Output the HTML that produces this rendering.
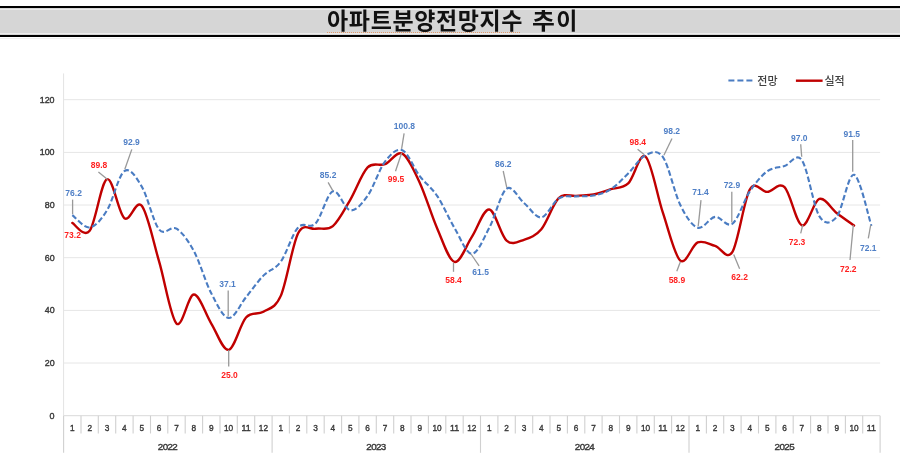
<!DOCTYPE html>
<html lang="ko"><head><meta charset="utf-8"><title>아파트분양전망지수 추이</title>
<style>
html,body{margin:0;padding:0;background:#fff;}
body{width:900px;height:465px;overflow:hidden;position:relative;font-family:"Liberation Sans","Noto Sans CJK KR",sans-serif;}
.title{position:absolute;left:0;top:6px;width:900px;height:27px;border-top:2px solid #000;border-bottom:2px solid #000;background:#d6d6d6;}
.title .in{position:absolute;left:0;right:0;top:1px;bottom:1px;border-top:1px solid #ececec;border-bottom:1px solid #ececec;}
.title h1{margin:0;position:absolute;left:2.5px;width:900px;top:-2px;text-align:center;font:bold 23px/31px "Liberation Sans","Noto Sans CJK KR",sans-serif;color:#111;letter-spacing:0.6px;word-spacing:2px;}
.title .sq{position:absolute;left:327px;width:193px;top:24px;height:0;border-top:1px dotted #e39a6a;}
.sub{position:absolute;left:0;top:38px;width:900px;height:1px;background:#f0f0f0;}
svg{position:absolute;left:0;top:0;}
.wrap{position:absolute;left:0;top:0;width:900px;height:465px;background:#fff;filter:blur(0.6px);}
.yl{font-size:9.8px;fill:#383838;stroke:#383838;stroke-width:0.4px;text-anchor:end;font-family:"Liberation Sans",sans-serif;}
.ml{font-size:9.8px;fill:#383838;stroke:#383838;stroke-width:0.4px;text-anchor:middle;font-family:"Liberation Sans",sans-serif;}
.dl{font-size:8.5px;font-weight:bold;text-anchor:middle;font-family:"Liberation Sans",sans-serif;}
.lg{font-size:11px;font-weight:500;fill:#404040;font-family:"Liberation Sans","Noto Sans CJK KR",sans-serif;}
</style></head><body>
<div class="wrap">
<div class="title"><div class="in"></div><h1>아파트분양전망지수 <span style="letter-spacing:3px;display:inline-block;transform:scaleX(1.08);transform-origin:0 50%">추</span>이</h1><div class="sq"></div></div>
<div class="sub"></div>
<svg width="900" height="465" viewBox="0 0 900 465">
<line x1="63.6" y1="363.0" x2="880.1" y2="363.0" stroke="#e6e6e6" stroke-width="1"/>
<line x1="63.6" y1="310.4" x2="880.1" y2="310.4" stroke="#e6e6e6" stroke-width="1"/>
<line x1="63.6" y1="257.7" x2="880.1" y2="257.7" stroke="#e6e6e6" stroke-width="1"/>
<line x1="63.6" y1="205.0" x2="880.1" y2="205.0" stroke="#e6e6e6" stroke-width="1"/>
<line x1="63.6" y1="152.4" x2="880.1" y2="152.4" stroke="#e6e6e6" stroke-width="1"/>
<line x1="63.6" y1="99.7" x2="880.1" y2="99.7" stroke="#e6e6e6" stroke-width="1"/>
<line x1="63.6" y1="73.4" x2="63.6" y2="415.7" stroke="#e3e3e3" stroke-width="1"/>
<text x="54.6" y="418.6" class="yl" textLength="5.0" lengthAdjust="spacingAndGlyphs">0</text>
<text x="54.6" y="365.9" class="yl" textLength="9.9" lengthAdjust="spacingAndGlyphs">20</text>
<text x="54.6" y="313.3" class="yl" textLength="9.9" lengthAdjust="spacingAndGlyphs">40</text>
<text x="54.6" y="260.6" class="yl" textLength="9.9" lengthAdjust="spacingAndGlyphs">60</text>
<text x="54.6" y="207.9" class="yl" textLength="9.9" lengthAdjust="spacingAndGlyphs">80</text>
<text x="54.6" y="155.3" class="yl" textLength="14.9" lengthAdjust="spacingAndGlyphs">100</text>
<text x="54.6" y="102.6" class="yl" textLength="14.9" lengthAdjust="spacingAndGlyphs">120</text>
<line x1="63.6" y1="415.7" x2="880.1" y2="415.7" stroke="#d9d9d9" stroke-width="1"/>
<line x1="63.6" y1="415.7" x2="63.6" y2="452.8" stroke="#d0d0d0" stroke-width="1.1"/>
<line x1="81.0" y1="415.7" x2="81.0" y2="433.5" stroke="#d0d0d0" stroke-width="1.1"/>
<line x1="98.3" y1="415.7" x2="98.3" y2="433.5" stroke="#d0d0d0" stroke-width="1.1"/>
<line x1="115.7" y1="415.7" x2="115.7" y2="433.5" stroke="#d0d0d0" stroke-width="1.1"/>
<line x1="133.1" y1="415.7" x2="133.1" y2="433.5" stroke="#d0d0d0" stroke-width="1.1"/>
<line x1="150.5" y1="415.7" x2="150.5" y2="433.5" stroke="#d0d0d0" stroke-width="1.1"/>
<line x1="167.8" y1="415.7" x2="167.8" y2="433.5" stroke="#d0d0d0" stroke-width="1.1"/>
<line x1="185.2" y1="415.7" x2="185.2" y2="433.5" stroke="#d0d0d0" stroke-width="1.1"/>
<line x1="202.6" y1="415.7" x2="202.6" y2="433.5" stroke="#d0d0d0" stroke-width="1.1"/>
<line x1="220.0" y1="415.7" x2="220.0" y2="433.5" stroke="#d0d0d0" stroke-width="1.1"/>
<line x1="237.3" y1="415.7" x2="237.3" y2="433.5" stroke="#d0d0d0" stroke-width="1.1"/>
<line x1="254.7" y1="415.7" x2="254.7" y2="433.5" stroke="#d0d0d0" stroke-width="1.1"/>
<line x1="272.1" y1="415.7" x2="272.1" y2="452.8" stroke="#d0d0d0" stroke-width="1.1"/>
<line x1="289.4" y1="415.7" x2="289.4" y2="433.5" stroke="#d0d0d0" stroke-width="1.1"/>
<line x1="306.8" y1="415.7" x2="306.8" y2="433.5" stroke="#d0d0d0" stroke-width="1.1"/>
<line x1="324.2" y1="415.7" x2="324.2" y2="433.5" stroke="#d0d0d0" stroke-width="1.1"/>
<line x1="341.6" y1="415.7" x2="341.6" y2="433.5" stroke="#d0d0d0" stroke-width="1.1"/>
<line x1="358.9" y1="415.7" x2="358.9" y2="433.5" stroke="#d0d0d0" stroke-width="1.1"/>
<line x1="376.3" y1="415.7" x2="376.3" y2="433.5" stroke="#d0d0d0" stroke-width="1.1"/>
<line x1="393.7" y1="415.7" x2="393.7" y2="433.5" stroke="#d0d0d0" stroke-width="1.1"/>
<line x1="411.0" y1="415.7" x2="411.0" y2="433.5" stroke="#d0d0d0" stroke-width="1.1"/>
<line x1="428.4" y1="415.7" x2="428.4" y2="433.5" stroke="#d0d0d0" stroke-width="1.1"/>
<line x1="445.8" y1="415.7" x2="445.8" y2="433.5" stroke="#d0d0d0" stroke-width="1.1"/>
<line x1="463.2" y1="415.7" x2="463.2" y2="433.5" stroke="#d0d0d0" stroke-width="1.1"/>
<line x1="480.5" y1="415.7" x2="480.5" y2="452.8" stroke="#d0d0d0" stroke-width="1.1"/>
<line x1="497.9" y1="415.7" x2="497.9" y2="433.5" stroke="#d0d0d0" stroke-width="1.1"/>
<line x1="515.3" y1="415.7" x2="515.3" y2="433.5" stroke="#d0d0d0" stroke-width="1.1"/>
<line x1="532.7" y1="415.7" x2="532.7" y2="433.5" stroke="#d0d0d0" stroke-width="1.1"/>
<line x1="550.0" y1="415.7" x2="550.0" y2="433.5" stroke="#d0d0d0" stroke-width="1.1"/>
<line x1="567.4" y1="415.7" x2="567.4" y2="433.5" stroke="#d0d0d0" stroke-width="1.1"/>
<line x1="584.8" y1="415.7" x2="584.8" y2="433.5" stroke="#d0d0d0" stroke-width="1.1"/>
<line x1="602.1" y1="415.7" x2="602.1" y2="433.5" stroke="#d0d0d0" stroke-width="1.1"/>
<line x1="619.5" y1="415.7" x2="619.5" y2="433.5" stroke="#d0d0d0" stroke-width="1.1"/>
<line x1="636.9" y1="415.7" x2="636.9" y2="433.5" stroke="#d0d0d0" stroke-width="1.1"/>
<line x1="654.3" y1="415.7" x2="654.3" y2="433.5" stroke="#d0d0d0" stroke-width="1.1"/>
<line x1="671.6" y1="415.7" x2="671.6" y2="433.5" stroke="#d0d0d0" stroke-width="1.1"/>
<line x1="689.0" y1="415.7" x2="689.0" y2="452.8" stroke="#d0d0d0" stroke-width="1.1"/>
<line x1="706.4" y1="415.7" x2="706.4" y2="433.5" stroke="#d0d0d0" stroke-width="1.1"/>
<line x1="723.7" y1="415.7" x2="723.7" y2="433.5" stroke="#d0d0d0" stroke-width="1.1"/>
<line x1="741.1" y1="415.7" x2="741.1" y2="433.5" stroke="#d0d0d0" stroke-width="1.1"/>
<line x1="758.5" y1="415.7" x2="758.5" y2="433.5" stroke="#d0d0d0" stroke-width="1.1"/>
<line x1="775.9" y1="415.7" x2="775.9" y2="433.5" stroke="#d0d0d0" stroke-width="1.1"/>
<line x1="793.2" y1="415.7" x2="793.2" y2="433.5" stroke="#d0d0d0" stroke-width="1.1"/>
<line x1="810.6" y1="415.7" x2="810.6" y2="433.5" stroke="#d0d0d0" stroke-width="1.1"/>
<line x1="828.0" y1="415.7" x2="828.0" y2="433.5" stroke="#d0d0d0" stroke-width="1.1"/>
<line x1="845.4" y1="415.7" x2="845.4" y2="433.5" stroke="#d0d0d0" stroke-width="1.1"/>
<line x1="862.7" y1="415.7" x2="862.7" y2="433.5" stroke="#d0d0d0" stroke-width="1.1"/>
<line x1="880.1" y1="415.7" x2="880.1" y2="452.8" stroke="#d0d0d0" stroke-width="1.1"/>
<text x="72.3" y="431.0" class="ml" textLength="4.6" lengthAdjust="spacingAndGlyphs">1</text>
<text x="89.7" y="431.0" class="ml" textLength="4.6" lengthAdjust="spacingAndGlyphs">2</text>
<text x="107.0" y="431.0" class="ml" textLength="4.6" lengthAdjust="spacingAndGlyphs">3</text>
<text x="124.4" y="431.0" class="ml" textLength="4.6" lengthAdjust="spacingAndGlyphs">4</text>
<text x="141.8" y="431.0" class="ml" textLength="4.6" lengthAdjust="spacingAndGlyphs">5</text>
<text x="159.1" y="431.0" class="ml" textLength="4.6" lengthAdjust="spacingAndGlyphs">6</text>
<text x="176.5" y="431.0" class="ml" textLength="4.6" lengthAdjust="spacingAndGlyphs">7</text>
<text x="193.9" y="431.0" class="ml" textLength="4.6" lengthAdjust="spacingAndGlyphs">8</text>
<text x="211.3" y="431.0" class="ml" textLength="4.6" lengthAdjust="spacingAndGlyphs">9</text>
<text x="228.6" y="431.0" class="ml" textLength="9.2" lengthAdjust="spacingAndGlyphs">10</text>
<text x="246.0" y="431.0" class="ml" textLength="9.2" lengthAdjust="spacingAndGlyphs">11</text>
<text x="263.4" y="431.0" class="ml" textLength="9.2" lengthAdjust="spacingAndGlyphs">12</text>
<text x="280.8" y="431.0" class="ml" textLength="4.6" lengthAdjust="spacingAndGlyphs">1</text>
<text x="298.1" y="431.0" class="ml" textLength="4.6" lengthAdjust="spacingAndGlyphs">2</text>
<text x="315.5" y="431.0" class="ml" textLength="4.6" lengthAdjust="spacingAndGlyphs">3</text>
<text x="332.9" y="431.0" class="ml" textLength="4.6" lengthAdjust="spacingAndGlyphs">4</text>
<text x="350.2" y="431.0" class="ml" textLength="4.6" lengthAdjust="spacingAndGlyphs">5</text>
<text x="367.6" y="431.0" class="ml" textLength="4.6" lengthAdjust="spacingAndGlyphs">6</text>
<text x="385.0" y="431.0" class="ml" textLength="4.6" lengthAdjust="spacingAndGlyphs">7</text>
<text x="402.4" y="431.0" class="ml" textLength="4.6" lengthAdjust="spacingAndGlyphs">8</text>
<text x="419.7" y="431.0" class="ml" textLength="4.6" lengthAdjust="spacingAndGlyphs">9</text>
<text x="437.1" y="431.0" class="ml" textLength="9.2" lengthAdjust="spacingAndGlyphs">10</text>
<text x="454.5" y="431.0" class="ml" textLength="9.2" lengthAdjust="spacingAndGlyphs">11</text>
<text x="471.8" y="431.0" class="ml" textLength="9.2" lengthAdjust="spacingAndGlyphs">12</text>
<text x="489.2" y="431.0" class="ml" textLength="4.6" lengthAdjust="spacingAndGlyphs">1</text>
<text x="506.6" y="431.0" class="ml" textLength="4.6" lengthAdjust="spacingAndGlyphs">2</text>
<text x="524.0" y="431.0" class="ml" textLength="4.6" lengthAdjust="spacingAndGlyphs">3</text>
<text x="541.3" y="431.0" class="ml" textLength="4.6" lengthAdjust="spacingAndGlyphs">4</text>
<text x="558.7" y="431.0" class="ml" textLength="4.6" lengthAdjust="spacingAndGlyphs">5</text>
<text x="576.1" y="431.0" class="ml" textLength="4.6" lengthAdjust="spacingAndGlyphs">6</text>
<text x="593.5" y="431.0" class="ml" textLength="4.6" lengthAdjust="spacingAndGlyphs">7</text>
<text x="610.8" y="431.0" class="ml" textLength="4.6" lengthAdjust="spacingAndGlyphs">8</text>
<text x="628.2" y="431.0" class="ml" textLength="4.6" lengthAdjust="spacingAndGlyphs">9</text>
<text x="645.6" y="431.0" class="ml" textLength="9.2" lengthAdjust="spacingAndGlyphs">10</text>
<text x="662.9" y="431.0" class="ml" textLength="9.2" lengthAdjust="spacingAndGlyphs">11</text>
<text x="680.3" y="431.0" class="ml" textLength="9.2" lengthAdjust="spacingAndGlyphs">12</text>
<text x="697.7" y="431.0" class="ml" textLength="4.6" lengthAdjust="spacingAndGlyphs">1</text>
<text x="715.1" y="431.0" class="ml" textLength="4.6" lengthAdjust="spacingAndGlyphs">2</text>
<text x="732.4" y="431.0" class="ml" textLength="4.6" lengthAdjust="spacingAndGlyphs">3</text>
<text x="749.8" y="431.0" class="ml" textLength="4.6" lengthAdjust="spacingAndGlyphs">4</text>
<text x="767.2" y="431.0" class="ml" textLength="4.6" lengthAdjust="spacingAndGlyphs">5</text>
<text x="784.6" y="431.0" class="ml" textLength="4.6" lengthAdjust="spacingAndGlyphs">6</text>
<text x="801.9" y="431.0" class="ml" textLength="4.6" lengthAdjust="spacingAndGlyphs">7</text>
<text x="819.3" y="431.0" class="ml" textLength="4.6" lengthAdjust="spacingAndGlyphs">8</text>
<text x="836.7" y="431.0" class="ml" textLength="4.6" lengthAdjust="spacingAndGlyphs">9</text>
<text x="854.0" y="431.0" class="ml" textLength="9.2" lengthAdjust="spacingAndGlyphs">10</text>
<text x="871.4" y="431.0" class="ml" textLength="9.2" lengthAdjust="spacingAndGlyphs">11</text>
<text x="167.8" y="449.8" class="ml" textLength="20">2022</text>
<text x="376.3" y="449.8" class="ml" textLength="20">2023</text>
<text x="584.8" y="449.8" class="ml" textLength="20">2024</text>
<text x="784.6" y="449.8" class="ml" textLength="20">2025</text>
<path d="M72.29 222.94 C75.18 224.26 83.87 238.13 89.66 230.84 C95.45 223.55 101.24 181.33 107.03 179.23 C112.82 177.12 118.61 213.77 124.40 218.20 C130.19 222.63 135.98 198.58 141.78 205.82 C147.57 213.06 153.36 242.03 159.15 261.65 C164.94 281.27 170.73 318.05 176.52 323.53 C182.31 329.02 188.10 294.57 193.89 294.57 C199.68 294.57 205.47 314.32 211.26 323.53 C217.06 332.75 222.85 350.88 228.64 349.87 C234.43 348.86 240.22 323.84 246.01 317.48 C251.80 311.11 257.59 315.28 263.38 311.68 C269.17 308.08 274.96 308.96 280.75 295.88 C286.55 282.80 292.34 244.40 298.13 233.21 C303.92 222.02 309.71 229.92 315.50 228.73 C321.29 227.55 327.08 230.93 332.87 226.10 C338.66 221.27 344.45 209.55 350.24 199.77 C356.03 189.98 361.83 173.30 367.62 167.38 C373.41 161.45 379.20 166.50 384.99 164.22 C390.78 161.93 396.57 150.61 402.36 153.68 C408.15 156.76 413.94 170.23 419.73 182.65 C425.52 195.07 431.31 215.00 437.11 228.21 C442.90 241.42 448.69 260.46 454.48 261.91 C460.27 263.36 466.06 245.63 471.85 236.90 C477.64 228.16 483.43 208.90 489.22 209.51 C495.01 210.12 500.80 235.54 506.59 240.58 C512.39 245.63 518.18 241.68 523.97 239.79 C529.76 237.91 535.55 236.19 541.34 229.26 C547.13 222.33 552.92 203.76 558.71 198.19 C564.50 192.61 570.29 196.43 576.08 195.82 C581.87 195.20 587.67 195.60 593.46 194.50 C599.25 193.40 605.04 191.08 610.83 189.23 C616.62 187.39 622.41 188.88 628.20 183.44 C633.99 178.00 639.78 151.66 645.57 156.58 C651.36 161.50 657.15 195.60 662.95 212.93 C668.74 230.27 674.53 255.68 680.32 260.60 C686.11 265.51 691.90 244.88 697.69 242.43 C703.48 239.97 709.27 244.27 715.06 245.85 C720.85 247.43 726.64 261.30 732.44 251.91 C738.23 242.51 744.02 199.50 749.81 189.50 C755.60 179.49 761.39 192.26 767.18 191.87 C772.97 191.47 778.76 181.55 784.55 187.13 C790.34 192.70 796.13 223.34 801.92 225.31 C807.72 227.28 813.51 201.04 819.30 198.98 C825.09 196.91 830.88 208.50 836.67 212.93 C842.46 217.37 851.15 223.47 854.04 225.57" fill="none" stroke="#c00000" stroke-width="2.4" stroke-linejoin="round" stroke-linecap="round"/>
<path d="M72.29 215.04 C75.18 217.10 83.87 228.21 89.66 227.42 C95.45 226.63 101.24 219.69 107.03 210.30 C112.82 200.91 118.61 175.01 124.40 171.06 C130.19 167.11 135.98 176.86 141.78 186.60 C147.57 196.34 153.36 222.50 159.15 229.52 C164.94 236.55 170.73 225.13 176.52 228.73 C182.31 232.33 188.10 240.36 193.89 251.12 C199.68 261.87 205.47 282.10 211.26 293.25 C217.06 304.40 222.85 317.35 228.64 318.00 C234.43 318.66 240.22 304.27 246.01 297.20 C251.80 290.13 257.59 281.53 263.38 275.61 C269.17 269.68 274.96 269.68 280.75 261.65 C286.55 253.62 292.34 233.78 298.13 227.42 C303.92 221.05 309.71 229.48 315.50 223.47 C321.29 217.45 327.08 193.53 332.87 191.34 C338.66 189.15 344.45 209.55 350.24 210.30 C356.03 211.05 361.83 203.94 367.62 195.82 C373.41 187.70 379.20 169.18 384.99 161.58 C390.78 153.99 396.57 147.85 402.36 150.26 C408.15 152.67 413.94 168.47 419.73 176.07 C425.52 183.66 431.31 187.17 437.11 195.82 C442.90 204.46 448.69 218.29 454.48 227.94 C460.27 237.60 466.06 253.75 471.85 253.75 C477.64 253.75 483.43 238.78 489.22 227.94 C495.01 217.10 500.80 192.88 506.59 188.71 C512.39 184.54 518.18 198.14 523.97 202.93 C529.76 207.71 535.55 218.16 541.34 217.41 C547.13 216.66 552.92 201.96 558.71 198.45 C564.50 194.94 570.29 196.83 576.08 196.34 C581.87 195.86 587.67 196.74 593.46 195.55 C599.25 194.37 605.04 192.92 610.83 189.23 C616.62 185.55 622.41 179.09 628.20 173.43 C633.99 167.77 639.78 157.98 645.57 155.26 C651.36 152.54 657.15 148.81 662.95 157.11 C668.74 165.40 674.53 193.27 680.32 205.03 C686.11 216.80 691.90 225.70 697.69 227.68 C703.48 229.65 709.27 217.54 715.06 216.88 C720.85 216.22 726.64 227.99 732.44 223.73 C738.23 219.47 744.02 200.07 749.81 191.34 C755.60 182.61 761.39 175.54 767.18 171.33 C772.97 167.11 778.76 167.90 784.55 166.06 C790.34 164.22 796.13 151.93 801.92 160.27 C807.72 168.61 813.51 206.66 819.30 216.09 C825.09 225.53 830.88 223.77 836.67 216.88 C842.46 209.99 848.25 173.26 854.04 174.75 C859.83 176.24 868.52 217.32 871.41 225.84" fill="none" stroke="#4a7cc2" stroke-width="2.1" stroke-dasharray="5.5 2.6"/>
<line x1="72.6" y1="199.6" x2="72.6" y2="214.3" stroke="#999" stroke-width="1.3"/>
<line x1="98.4" y1="171.9" x2="107.6" y2="179.5" stroke="#999" stroke-width="1.3"/>
<line x1="131.8" y1="149.4" x2="124.8" y2="169.2" stroke="#999" stroke-width="1.3"/>
<line x1="228.2" y1="290.6" x2="228.2" y2="316.4" stroke="#999" stroke-width="1.3"/>
<line x1="228.7" y1="349.9" x2="228.7" y2="366.6" stroke="#999" stroke-width="1.3"/>
<line x1="328.1" y1="182.4" x2="332.8" y2="190.6" stroke="#999" stroke-width="1.3"/>
<line x1="404.1" y1="133.3" x2="401.6" y2="148.8" stroke="#999" stroke-width="1.3"/>
<line x1="395.5" y1="171.2" x2="401.6" y2="153.0" stroke="#999" stroke-width="1.3"/>
<line x1="453.5" y1="262.8" x2="453.5" y2="271.8" stroke="#999" stroke-width="1.3"/>
<line x1="471.0" y1="254.0" x2="479.1" y2="265.8" stroke="#999" stroke-width="1.3"/>
<line x1="503.2" y1="171.0" x2="506.8" y2="187.6" stroke="#999" stroke-width="1.3"/>
<line x1="637.6" y1="149.2" x2="644.1" y2="154.4" stroke="#999" stroke-width="1.3"/>
<line x1="672.0" y1="138.5" x2="663.9" y2="155.3" stroke="#999" stroke-width="1.3"/>
<line x1="680.4" y1="261.7" x2="676.8" y2="271.2" stroke="#999" stroke-width="1.3"/>
<line x1="701.0" y1="200.1" x2="698.2" y2="226.2" stroke="#999" stroke-width="1.3"/>
<line x1="731.8" y1="191.8" x2="731.8" y2="222.6" stroke="#999" stroke-width="1.3"/>
<line x1="733.7" y1="254.6" x2="739.6" y2="268.8" stroke="#999" stroke-width="1.3"/>
<line x1="800.7" y1="144.3" x2="801.7" y2="156.7" stroke="#999" stroke-width="1.3"/>
<line x1="802.7" y1="225.0" x2="800.7" y2="233.3" stroke="#999" stroke-width="1.3"/>
<line x1="852.7" y1="140.0" x2="852.7" y2="171.7" stroke="#999" stroke-width="1.3"/>
<line x1="853.3" y1="225.0" x2="850.0" y2="260.0" stroke="#999" stroke-width="1.3"/>
<line x1="870.7" y1="225.0" x2="868.3" y2="238.3" stroke="#999" stroke-width="1.3"/>
<text x="73.6" y="195.6" class="dl" fill="#4f7fc6">76.2</text>
<text x="72.6" y="237.9" class="dl" fill="#ff1f1f">73.2</text>
<text x="99.0" y="168.0" class="dl" fill="#ff1f1f">89.8</text>
<text x="131.5" y="144.8" class="dl" fill="#4f7fc6">92.9</text>
<text x="227.5" y="287.2" class="dl" fill="#4f7fc6">37.1</text>
<text x="229.5" y="378.2" class="dl" fill="#ff1f1f">25.0</text>
<text x="328.1" y="178.1" class="dl" fill="#4f7fc6">85.2</text>
<text x="404.4" y="128.8" class="dl" fill="#4f7fc6">100.8</text>
<text x="396.0" y="182.4" class="dl" fill="#ff1f1f">99.5</text>
<text x="453.5" y="282.9" class="dl" fill="#ff1f1f">58.4</text>
<text x="480.6" y="274.8" class="dl" fill="#4f7fc6">61.5</text>
<text x="503.2" y="166.5" class="dl" fill="#4f7fc6">86.2</text>
<text x="637.8" y="145.4" class="dl" fill="#ff1f1f">98.4</text>
<text x="671.8" y="134.0" class="dl" fill="#4f7fc6">98.2</text>
<text x="676.9" y="282.5" class="dl" fill="#ff1f1f">58.9</text>
<text x="700.5" y="195.3" class="dl" fill="#4f7fc6">71.4</text>
<text x="731.9" y="187.7" class="dl" fill="#4f7fc6">72.9</text>
<text x="739.6" y="280.1" class="dl" fill="#ff1f1f">62.2</text>
<text x="799.2" y="140.7" class="dl" fill="#4f7fc6">97.0</text>
<text x="797.0" y="245.3" class="dl" fill="#ff1f1f">72.3</text>
<text x="851.7" y="137.3" class="dl" fill="#4f7fc6">91.5</text>
<text x="848.3" y="272.0" class="dl" fill="#ff1f1f">72.2</text>
<text x="868.3" y="251.3" class="dl" fill="#4f7fc6">72.1</text>
<line x1="728.4" y1="80.5" x2="752.4" y2="80.5" stroke="#4a7cc2" stroke-width="2.1" stroke-dasharray="6 3"/>
<text x="757.3" y="85" class="lg">전망</text>
<line x1="795.9" y1="80.7" x2="822.6" y2="80.7" stroke="#c00000" stroke-width="2.4"/>
<text x="824.5" y="85" class="lg">실적</text>
</svg>
</div>
</body></html>
